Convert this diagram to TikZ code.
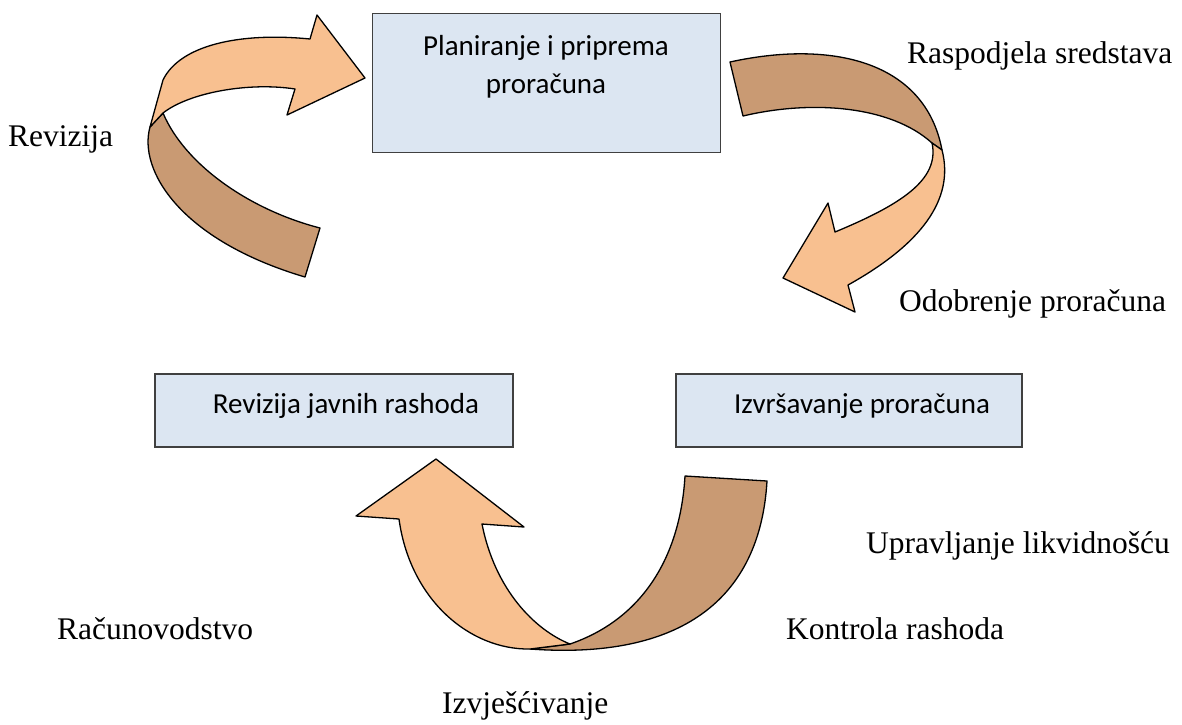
\documentclass[tikz,border=0pt]{standalone}
\usepackage{fontspec}
\setmainfont{Liberation Serif}
\newfontfamily\carlito{Carlito}
\definecolor{boxblue}{HTML}{DCE6F2}
\definecolor{lightor}{HTML}{F8C090}
\definecolor{darkor}{HTML}{C99A73}
\tikzset{
  box/.style={draw=black!75, fill=boxblue, line width=1.2pt, inner sep=0pt},
  boxtext/.style={inner sep=0pt, align=center, font=\carlito\fontsize{29}{38}\selectfont},
  lbl/.style={anchor=base west, inner sep=0pt, font=\fontsize{31.5}{38}\selectfont},
  light/.style={draw=black, fill=lightor, line width=1.3pt, line join=round},
  dark/.style={draw=black, fill=darkor, line width=1.3pt, line join=round}
}
\begin{document}
\begin{tikzpicture}[x=1pt,y=-1pt]
\useasboundingbox (0,0) rectangle (1182,724);

% boxes
\node[box, minimum width=348pt, minimum height=139pt, anchor=north west] (plan) at (372,13) {};
\node[boxtext, anchor=north] (plantext) at (546,35) {Planiranje i priprema\\proračuna};
\node[box, minimum width=358pt, minimum height=73pt] (revjr) at (334,410.5) {};
\node[boxtext, anchor=base] (revjrtext) at (346,413) {Revizija javnih rashoda};
\node[box, minimum width=346pt, minimum height=73pt] (izvr) at (849,410.5) {};
\node[boxtext, anchor=base] (izvrtext) at (862,413) {Izvršavanje proračuna};

% labels
\node[lbl] (l1) at (8,146) {Revizija};
\node[lbl] (l2) at (907,63) {Raspodjela sredstava};
\node[lbl] (l3) at (899,311) {Odobrenje proračuna};
\node[lbl] (l4) at (866,553) {Upravljanje likvidnošću};
\node[lbl] (l5) at (57,639) {Računovodstvo};
\node[lbl] (l6) at (786,639) {Kontrola rashoda};
\node[lbl] (l7) at (442,713) {Izvješćivanje};

% top-left arrow (Revizija -> Planiranje)
\draw[dark] (150,127) .. controls (138,170) and (180,240) .. (305,277)
  -- (320,228) .. controls (250,210) and (185,165) .. (163,113) -- cycle;
\draw[light] (365,78) -- (317,15) -- (310,39)
  .. controls (240,32) and (180,45) .. (163,80)
  -- (150,127) -- (163,113)
  .. controls (190,92) and (250,82) .. (295,89)
  -- (287,115) -- cycle;

% top-right arrow (Raspodjela -> Odobrenje)
\draw[dark] (730,62) .. controls (830,40) and (925,60) .. (942,150)
  -- (932,143) .. controls (890,105) and (810,100) .. (743,116) -- cycle;
\draw[light] (942,150) .. controls (955,200) and (920,245) .. (848,285)
  -- (855,312) -- (783,278) -- (828,203) -- (835,232)
  .. controls (900,205) and (940,180) .. (932,143) -- cycle;

% bottom arrow
\draw[dark] (570,644) .. controls (640,620) and (680,560) .. (685,476)
  -- (767,481) .. controls (760,600) and (680,660) .. (530,649) -- cycle;
\draw[light] (436,459) -- (356,516) -- (399,519)
  .. controls (410,600) and (470,650) .. (530,649)
  -- (570,644) .. controls (535,630) and (495,590) .. (482,524)
  -- (524,527) -- cycle;
\end{tikzpicture}
\end{document}
